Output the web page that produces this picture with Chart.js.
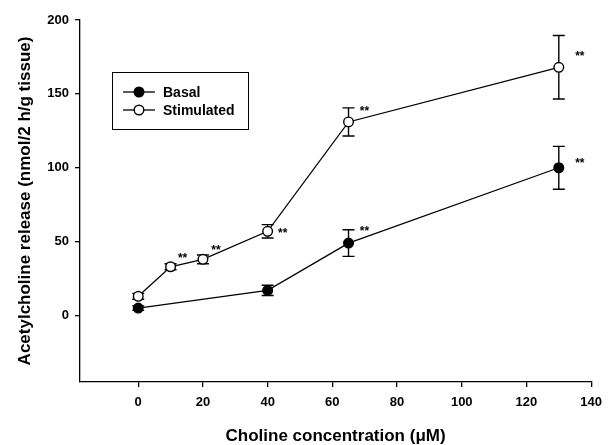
<!DOCTYPE html>
<html><head><meta charset="utf-8">
<script src="https://cdn.jsdelivr.net/npm/chart.js@4.4.0/dist/chart.umd.min.js"></script>
<style>html,body{margin:0;padding:0;background:#fff}#wrap{width:610px;height:445px}</style>
</head><body><div id="wrap"><canvas id="c" width="610" height="445"></canvas></div>
<script>
// ---- data ----
const basalX = [0, 40, 65, 130];
const basalY = [5, 17, 49, 100];
const basalErr = [1.5, 3.5, 9, 14.5];
const stimX = [0, 10, 20, 40, 65, 130];
const stimY = [13, 33, 38, 57, 131, 168];
const stimErr = [2, 2, 3, 4.5, 9.5, 21.5];
const xTicks = [0, 20, 40, 60, 80, 100, 120, 140];
const yTicks = [0, 50, 100, 150, 200];
const seriesNames = ['Basal', 'Stimulated'];
const xTitle = 'Choline concentration (\u03BCM)';
const yTitle = 'Acetylcholine release (nmol/2 h/g tissue)';
// significant points: [series index, concentration]
const sigSeries = [1, 1, 1, 1, 0, 1, 0];
const sigConc = [10, 20, 40, 65, 65, 130, 130];
const sigLabel = '**';

// ---- styles ----
const FONT = "'Liberation Sans', Arial, Helvetica, sans-serif";
const sigOffsets = [[12, -10], [13, -11], [15, 0], [16, -12], [16, -13], [21, -13], [21, -6]];

Chart.defaults.font.family = FONT;
Chart.defaults.color = '#000';

function toPts(xs, ys) { return xs.map((x, i) => ({x: x, y: ys[i]})); }

const errorBars = {
  id: 'errorBars',
  beforeDatasetsDraw(chart) {
    const ctx = chart.ctx, xs = chart.scales.x, ys = chart.scales.y;
    const sets = [[basalX, basalY, basalErr], [stimX, stimY, stimErr]];
    ctx.save();
    ctx.strokeStyle = '#000';
    ctx.lineWidth = 1.4;
    sets.forEach(([X, Y, E]) => {
      X.forEach((x, i) => {
        const px = xs.getPixelForValue(x);
        const top = ys.getPixelForValue(Y[i] + E[i]);
        const bot = ys.getPixelForValue(Y[i] - E[i]);
        ctx.beginPath();
        ctx.moveTo(px, top); ctx.lineTo(px, bot);
        ctx.moveTo(px - 6, top); ctx.lineTo(px + 6, top);
        ctx.moveTo(px - 6, bot); ctx.lineTo(px + 6, bot);
        ctx.stroke();
      });
    });
    ctx.restore();
  },
  afterDatasetsDraw(chart) {
    const ctx = chart.ctx, xs = chart.scales.x, ys = chart.scales.y;
    ctx.save();
    ctx.fillStyle = '#000';
    ctx.font = 'bold 12px ' + FONT;
    ctx.textAlign = 'center';
    ctx.textBaseline = 'middle';
    sigSeries.forEach((s, i) => {
      const X = s === 0 ? basalX : stimX, Y = s === 0 ? basalY : stimY;
      const idx = X.indexOf(sigConc[i]);
      const px = xs.getPixelForValue(sigConc[i]) + sigOffsets[i][0];
      const py = ys.getPixelForValue(Y[idx]) + sigOffsets[i][1];
      ctx.fillText(sigLabel, px, py + 2);
    });
    ctx.restore();
  }
};

const boxLegend = {
  id: 'boxLegend',
  afterDraw(chart) {
    const ctx = chart.ctx;
    ctx.save();
    ctx.strokeStyle = '#000';
    ctx.lineWidth = 1;
    ctx.strokeRect(112.5, 72.5, 136, 57);
    const rows = [92, 110];
    chart.data.datasets.forEach((ds, i) => {
      const y = rows[i];
      ctx.beginPath();
      ctx.lineWidth = 1.3;
      ctx.moveTo(123, y); ctx.lineTo(155, y); ctx.stroke();
      ctx.beginPath();
      ctx.arc(139, y, 4.8, 0, Math.PI * 2);
      ctx.fillStyle = ds.pointBackgroundColor;
      ctx.fill();
      ctx.lineWidth = 1.4;
      ctx.stroke();
      ctx.fillStyle = '#000';
      ctx.font = 'bold 14px ' + FONT;
      ctx.textBaseline = 'middle';
      ctx.fillText(ds.label, 163, y + 1);
    });
    ctx.restore();
  }
};

new Chart(document.getElementById('c'), {
  type: 'scatter',
  data: {
    datasets: [
      {label: seriesNames[0], data: toPts(basalX, basalY), showLine: true, borderColor: '#000', borderWidth: 1.3,
       pointRadius: 4.8, pointBackgroundColor: '#000', pointBorderColor: '#000', pointBorderWidth: 1.4},
      {label: seriesNames[1], data: toPts(stimX, stimY), showLine: true, borderColor: '#000', borderWidth: 1.3,
       pointRadius: 4.8, pointBackgroundColor: '#fff', pointBorderColor: '#000', pointBorderWidth: 1.4}
    ]
  },
  options: {
    responsive: false,
    animation: false,
    devicePixelRatio: 1,
    layout: {padding: {left: 0, right: 18, top: 20, bottom: 0}},
    plugins: {legend: {display: false}, tooltip: {enabled: false}},
    scales: {
      x: {
        type: 'linear', min: -18, max: 140,
        afterBuildTicks: s => { s.ticks = xTicks.map(v => ({value: v})); },
        afterFit: s => { s.height = 63; },
        grid: {drawOnChartArea: false, drawTicks: true, tickLength: 5, color: '#000', lineWidth: 1.3},
        border: {display: true, color: '#000', width: 1.3},
        ticks: {font: {size: 13, weight: 'bold'}, padding: 8, color: '#000', maxRotation: 0},
        title: {display: true, text: xTitle, font: {size: 17, weight: 'bold'}, padding: {top: 0, bottom: -2}, color: '#000'}
      },
      y: {
        type: 'linear', min: -45, max: 200,
        afterBuildTicks: s => { s.ticks = yTicks.map(v => ({value: v})); },
        afterFit: s => { s.width = 80; },
        grid: {drawOnChartArea: false, drawTicks: true, tickLength: 5, color: '#000', lineWidth: 1.3},
        border: {display: true, color: '#000', width: 1.3},
        ticks: {font: {size: 13, weight: 'bold'}, padding: 6, color: '#000'},
        title: {display: true, text: yTitle, font: {size: 17, weight: 'bold'}, padding: {top: 15, bottom: 0}, color: '#000'}
      }
    }
  },
  plugins: [errorBars, boxLegend]
});
</script></body></html>
